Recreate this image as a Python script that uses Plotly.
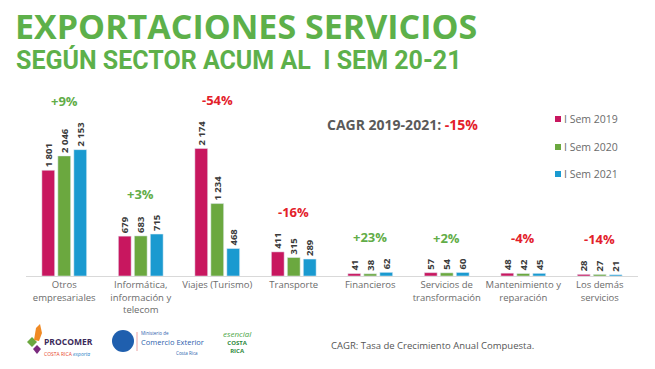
import plotly.graph_objects as go

categories = ["Otros<br>empresariales", "Informática,<br>información y<br>telecom",
              "Viajes (Turismo)", "Transporte", "Financieros",
              "Servicios de<br>transformación", "Mantenimiento y<br>reparación",
              "Los demás<br>servicios"]
series_names = ["I Sem 2019", "I Sem 2020", "I Sem 2021"]
sem2019 = [1801, 679, 2174, 411, 41, 57, 48, 28]
sem2020 = [2046, 683, 1234, 315, 38, 54, 42, 27]
sem2021 = [2153, 715, 468, 289, 62, 60, 45, 21]
growth = ["+9%", "+3%", "-54%", "-16%", "+23%", "+2%", "-4%", "-14%"]
cagr_total = "-15%"

colors = ["#C8175F", "#6BA83F", "#1A9AD0"]
GREEN_TXT = "#62AD48"
RED_TXT = "#E3202A"
TITLE_GREEN = "#5DB04A"
VAL_SIZE = 9.5
FONT = "Open Sans"

# page body has an 8px margin; figure is sized to fit the window
W, H = 647, 361
L, R, T, B = 18, 17, 82, 93
PW, PH = W - L - R, H - T - B


def px_x(px):  # page pixel -> paper x
    return (px - 8 - L) / PW


def px_y(py):  # page pixel -> paper y
    return (H - B - (py - 8)) / PH


def fmt(v):
    return f"{v:,}".replace(",", " ")


fig = go.Figure()
for name, vals, col in zip(series_names, [sem2019, sem2020, sem2021], colors):
    fig.add_trace(go.Bar(
        x=categories, y=vals, name=name, marker_color=col, showlegend=False,
        text=[fmt(v) for v in vals], textposition="outside", textangle=-90,
        constraintext="none", cliponaxis=False,
        textfont=dict(family=FONT, size=VAL_SIZE, color="#3a3a3a", weight="bold"),
        hoverinfo="skip"))


def text_px(s):
    return sum(0.27 * VAL_SIZE if ch == " " else 0.572 * VAL_SIZE for ch in s)


annotations = []
for i, cat in enumerate(categories):
    vals = [sem2019[i], sem2020[i], sem2021[i]]
    longest = max(text_px(fmt(v)) for v in vals)
    g = growth[i]
    annotations.append(dict(
        x=cat, y=max(vals), xref="x", yref="y", text=f"<b>{g}</b>", showarrow=False,
        yanchor="bottom", yshift=13 + longest,
        font=dict(family=FONT, size=13, color=GREEN_TXT if g.startswith("+") else RED_TXT)))

# titles
annotations += [
    dict(x=px_x(13), y=px_y(26), xref="paper", yref="paper", text="<b>EXPORTACIONES SERVICIOS</b>",
         showarrow=False, xanchor="left", yanchor="middle",
         font=dict(family=FONT, size=34, color=TITLE_GREEN)),
    dict(x=px_x(14), y=px_y(60), xref="paper", yref="paper", text="<b>SEGÚN SECTOR ACUM AL  I SEM 20-21</b>",
         showarrow=False, xanchor="left", yanchor="middle",
         font=dict(family="Roboto", size=25, color=TITLE_GREEN, weight=900)),
    dict(x=px_x(325), y=px_y(124), xref="paper", yref="paper",
         text=f"<b>CAGR 2019-2021: <span style='color:{RED_TXT}'>{cagr_total}</span></b>",
         showarrow=False, xanchor="left", yanchor="middle",
         font=dict(family=FONT, size=14, color="#5a5a5a")),
    dict(x=px_x(329), y=px_y(345), xref="paper", yref="paper",
         text="CAGR: Tasa de Crecimiento Anual Compuesta.",
         showarrow=False, xanchor="left", yanchor="middle",
         font=dict(family=FONT, size=9.5, color="#555555")),
]

# legend (manual, compact like the reference)
shapes = []
for name, col, py in zip(series_names, colors, [119, 147, 174]):
    shapes.append(dict(type="rect", xref="paper", yref="paper",
                       x0=px_x(555), x1=px_x(561), y0=px_y(py + 3), y1=px_y(py - 3),
                       fillcolor=col, line_width=0))
    annotations.append(dict(x=px_x(562), y=px_y(py), xref="paper", yref="paper",
                            text=name, showarrow=False, xanchor="left", yanchor="middle",
                            font=dict(family=FONT, size=10.5, color="#6b6b6b")))

# logos (approximate, as text + simple shapes)
pad = "&nbsp;" * 30
logo_ann = [
    dict(px=42, py=346,
         text="<b>PROCOMER</b><br><span style='font-size:5px'><span style='color:#e8452c'>COSTA RICA</span> "
              "<i style='color:#1f7fc6'>exporta</i></span>",
         size=8.5, color="#3b2a5a", anchor="left"),
    dict(px=139, py=343,
         text=f"<span style='font-size:4.5px'>Ministerio de</span><br>Comercio Exterior<br>"
              f"<span style='font-size:4.5px'>{pad}Costa Rica</span>",
         size=7.5, color="#2c62ad", anchor="left"),
    dict(px=237, py=341,
         text="<i style='font-size:8px;color:#4aa543'>esencial</i><br><b>COSTA</b><br><b>RICA</b>",
         size=6, color="#2e8a3c", anchor="center"),
]
for a in logo_ann:
    annotations.append(dict(
        x=px_x(a["px"]), y=px_y(a["py"]), xref="paper", yref="paper",
        text=a["text"], showarrow=False, xanchor=a["anchor"], yanchor="middle",
        align="left" if a["anchor"] == "left" else "center",
        font=dict(family=FONT, size=a["size"], color=a["color"])))


def poly(pts, color):
    d = "M " + " L ".join(f"{px_x(x)} {px_y(y)}" for x, y in pts) + " Z"
    return dict(type="path", xref="paper", yref="paper", path=d, fillcolor=color, line_width=0)


shapes += [
    poly([(27, 342), (32, 337), (37, 342), (32, 347)], "#6BA83F"),
    poly([(33, 349), (37, 345), (41, 349), (37, 354)], "#7a2a7e"),
    poly([(34, 340), (36, 328), (40, 324), (42, 333), (39, 341)], "#f08a24"),
    dict(type="circle", xref="paper", yref="paper",
         x0=px_x(112), x1=px_x(134), y0=px_y(352), y1=px_y(330),
         fillcolor="#1f5fae", line_width=0),
    dict(type="line", xref="paper", yref="paper",
         x0=px_x(137), x1=px_x(137), y0=px_y(332), y1=px_y(351),
         line=dict(color="#e9a0a0", width=1)),
]

fig.update_layout(
    width=W, height=H, autosize=False,
    margin=dict(l=L, r=R, t=T, b=B),
    paper_bgcolor="white", plot_bgcolor="white",
    barmode="group", bargap=0.373, bargroupgap=0.2,
    font=dict(family=FONT),
    showlegend=False,
    annotations=annotations, shapes=shapes,
    xaxis=dict(showline=True, linecolor="#d9d9d9", linewidth=1, ticks="",
               range=[-0.5, len(categories) - 0.5],
               tickfont=dict(family=FONT, size=9.5, color="#6b6b6b"), showgrid=False),
    yaxis=dict(range=[0, 3169], visible=False, showgrid=False, zeroline=False),
)

fig.write_html("out.html")
